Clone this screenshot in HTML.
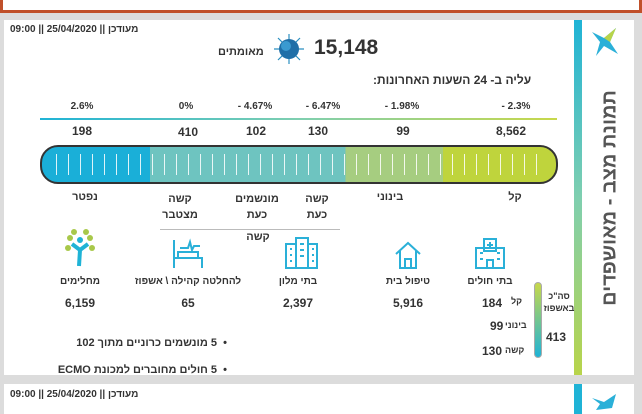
<!DOCTYPE html>
<html><head><meta charset="utf-8"><style>
body{margin:0;width:642px;height:410px;background:#dcdcdc;position:relative;overflow:hidden;font-family:"Liberation Sans","DejaVu Sans",sans-serif;color:#333}
.a{position:absolute;white-space:nowrap}
.c{transform:translateX(-50%);text-align:center}
.b{font-weight:bold}
</style></head><body>
<div class="a" style="left:0;top:-4px;width:636px;height:14px;border:3px solid #c0502a;border-top:none;background:#fff"></div>
<div class="a" style="left:4px;top:20px;width:630px;height:355px;background:#fff"></div>
<div class="a" style="left:574px;top:20px;width:8px;height:355px;background:linear-gradient(#1fb3d6,#7fcfb0,#b8d44a)"></div>
<div class="a" style="left:4px;top:384px;width:630px;height:30px;background:#fff"></div>
<div class="a" style="left:574px;top:384px;width:8px;height:30px;background:#1fb3d6"></div>
<svg class="a" style="left:590px;top:26px" width="30" height="32"><polygon points="2,6 14,12 26,2 20,16 28,28 14,20 6,30 10,16" fill="#2ab0d8"/><polygon points="14,12 26,2 20,16" fill="#b8d44a"/></svg>
<svg class="a" style="left:590px;top:392px" width="30" height="20"><polygon points="2,6 14,10 26,2 22,16 6,18 10,12" fill="#2ab0d8"/></svg>
<div class="a b" style="left:610px;top:198px;transform:translate(-50%,-50%) rotate(-90deg);font-size:20px;color:#555">תמונת מצב - מאושפדים</div>
<div class="a b" style="left:10px;top:24px;font-size:10px">09:00 || 25/04/2020 || מעודכן</div>
<div class="a b" style="left:10px;top:389px;font-size:10px">09:00 || 25/04/2020 || מעודכן</div>
<div class="a b" style="left:218px;top:46px;font-size:11px">מאומתים</div>
<svg class="a" style="left:272px;top:32px" width="34" height="34"><g stroke="#2a8fc0" stroke-width="1.2"><line x1="17" y1="2" x2="17" y2="32"/><line x1="2" y1="17" x2="32" y2="17"/><line x1="6" y1="6" x2="28" y2="28"/><line x1="28" y1="6" x2="6" y2="28"/></g><circle cx="17" cy="17" r="10" fill="#1f6fa8"/><circle cx="14" cy="14" r="5" fill="#3a9ad0"/></svg>
<div class="a b" style="left:314px;top:36px;font-size:21px;color:#333">15,148</div>
<div class="a b" style="left:373px;top:73px;font-size:12px;direction:rtl">עליה ב- 24 השעות האחרונות:</div>
<div class="a" style="left:40px;top:118px;width:517px;height:2px;background:linear-gradient(90deg,#1fb3d6,#7fcfb0,#c8d84a)"></div>
<div style="font-size:10px" class="b">
<div class="a c" style="left:82px;top:101px">2.6%</div>
<div class="a c" style="left:186px;top:101px">0%</div>
<div class="a c" style="left:255px;top:101px">- 4.67%</div>
<div class="a c" style="left:323px;top:101px">- 6.47%</div>
<div class="a c" style="left:402px;top:101px">- 1.98%</div>
<div class="a c" style="left:516px;top:101px">- 2.3%</div>
</div>
<div style="font-size:12px" class="b">
<div class="a c" style="left:82px;top:124px">198</div>
<div class="a c" style="left:188px;top:125px">410</div>
<div class="a c" style="left:256px;top:124px">102</div>
<div class="a c" style="left:318px;top:124px">130</div>
<div class="a c" style="left:403px;top:124px">99</div>
<div class="a c" style="left:511px;top:124px">8,562</div>
</div>
<div class="a" style="left:40px;top:145px;width:514px;height:35px;border:2px solid #333;border-radius:18px;overflow:hidden;background:linear-gradient(90deg,#1aafd8 0 21%,#6ec4c0 21% 59%,#a6cd80 59% 78%,#bfd43c 78%)">
<div style="position:absolute;left:14px;right:14px;top:7px;bottom:7px;background:repeating-linear-gradient(90deg,rgba(255,255,255,.85) 0 1px,transparent 1px 12px)"></div></div>
<div style="font-size:11px" class="b">
<div class="a c" style="left:85px;top:191px">נפטר</div>
<div class="a c" style="left:180px;top:191px;line-height:16px">קשה<br>מצטבר</div>
<div class="a c" style="left:257px;top:191px;line-height:16px">מונשמים<br>כעת</div>
<div class="a c" style="left:317px;top:191px;line-height:16px">קשה<br>כעת</div>
<div class="a c" style="left:390px;top:191px">בינוני</div>
<div class="a c" style="left:515px;top:191px">קל</div>
<div class="a c" style="left:258px;top:231px">קשה</div>
</div>
<div class="a" style="left:160px;top:229px;width:180px;height:1px;background:#bbb"></div>
<svg class="a" style="left:64px;top:228px" width="32" height="40"><g fill="#a8c84a"><circle cx="6" cy="10" r="3"/><circle cx="26" cy="10" r="3"/><circle cx="10" cy="4" r="3"/><circle cx="22" cy="4" r="3"/><circle cx="4" cy="20" r="3"/><circle cx="28" cy="20" r="3"/></g><circle cx="16" cy="12" r="3" fill="#1fb3d6"/><path d="M8 16 L16 22 L24 16 M16 22 L15 38" stroke="#1fb3d6" stroke-width="4" fill="none"/></svg>
<svg class="a" style="left:170px;top:236px" width="36" height="34" fill="none" stroke="#2ab0d8" stroke-width="2"><path d="M4 4 V32 M4 22 H32 V32 M8 22 V16 H28 V22 M10 12 H18 L20 6 L22 14 L24 10 H30"/></svg>
<svg class="a" style="left:283px;top:236px" width="36" height="34" fill="none" stroke="#2ab0d8" stroke-width="2"><rect x="3" y="8" width="10" height="24"/><rect x="13" y="2" width="12" height="30"/><rect x="25" y="8" width="9" height="24"/><path d="M7 13h2M7 19h2M7 25h2M17 8h4M17 14h4M17 20h4M29 13h2M29 19h2M29 25h2"/></svg>
<svg class="a" style="left:394px;top:240px" width="28" height="30" fill="none" stroke="#2ab0d8" stroke-width="2"><path d="M2 14 L14 3 L26 14 M6 11 V28 H22 V11 M11 28 V19 H17 V28"/></svg>
<svg class="a" style="left:473px;top:236px" width="34" height="34" fill="none" stroke="#2ab0d8" stroke-width="2"><rect x="3" y="12" width="28" height="20"/><rect x="11" y="3" width="12" height="12"/><path d="M17 6v6M14 9h6M7 17h3M7 23h3M24 17h3M24 23h3M14 32V24h6v8"/></svg>
<div style="font-size:10px" class="b">
<div class="a c" style="left:80px;top:276px">מחלימים</div>
<div class="a c" style="left:188px;top:276px">להחלטה קהילה \ אשפוז</div>
<div class="a c" style="left:298px;top:276px">בתי מלון</div>
<div class="a c" style="left:408px;top:276px">טיפול בית</div>
<div class="a c" style="left:490px;top:276px">בתי חולים</div>
</div>
<div style="font-size:12px" class="b">
<div class="a c" style="left:80px;top:296px">6,159</div>
<div class="a c" style="left:188px;top:296px">65</div>
<div class="a c" style="left:298px;top:296px">2,397</div>
<div class="a c" style="left:408px;top:296px">5,916</div>
<div class="a" style="left:482px;top:296px">184</div>
<div class="a" style="left:490px;top:319px">99</div>
<div class="a" style="left:482px;top:344px">130</div>
<div class="a" style="left:546px;top:330px">413</div>
</div>
<div style="font-size:9px" class="b">
<div class="a" style="left:511px;top:296px">קל</div>
<div class="a" style="left:505px;top:320px">בינוני</div>
<div class="a" style="left:505px;top:345px">קשה</div>
<div class="a c" style="left:559px;top:290px;line-height:12px">סה"כ<br>באשפוז</div>
</div>
<div class="a" style="left:534px;top:282px;width:6px;height:74px;border:1px solid #aaa;border-radius:4px;background:linear-gradient(#c8d84a,#1fb3d6)"></div>
<div class="a b" style="left:57px;top:330px;font-size:11px;line-height:27px;direction:rtl;text-align:right;width:170px">• &nbsp;5 מונשמים כרוניים מתוך 102<br>• &nbsp;5 חולים מחוברים למכונת ECMO</div>
</body></html>
